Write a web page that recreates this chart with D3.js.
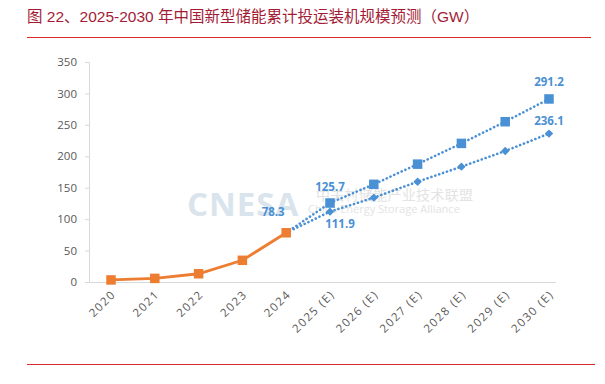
<!DOCTYPE html>
<html><head><meta charset="utf-8">
<script src="https://cdn.jsdelivr.net/npm/d3@7"></script>
<style>body{margin:0;background:#fff}svg{display:block}</style>
</head><body>
<script>
const categories = ["2020","2021","2022","2023","2024","2025 (E)","2026 (E)","2027 (E)","2028 (E)","2029 (E)","2030 (E)"];
const historical = [3.28, 5.73, 13.1, 34.5, 78.3, null, null, null, null, null, null];
const forecastHigh = [null, null, null, null, 78.3, 125.7, 155.4, 187.5, 220.5, 255.0, 291.2];
const forecastLow  = [null, null, null, null, 78.3, 111.9, 134.2, 159.6, 183.5, 208.4, 236.1];
const yTicks = [0, 50, 100, 150, 200, 250, 300, 350];
const title = "图 22、2025-2030 年中国新型储能累计投运装机规模预测（GW）";

const W = 605, H = 384;
const svg = d3.select("body").append("svg").attr("width", W).attr("height", H);

const orange = "#ED7D31", blue = "#4A90D4", red = "#D9292B";

// title
svg.append("text").attr("x", 27).attr("y", 22)
  .attr("font-family", "'Liberation Sans', 'Noto Sans CJK SC', sans-serif")
  .attr("font-size", 15.5).attr("fill", "#A31C36").text(title);
svg.append("line").attr("x1", 27).attr("x2", 591).attr("y1", 37.5).attr("y2", 37.5)
  .attr("stroke", red).attr("stroke-width", 1);
svg.append("line").attr("x1", 27).attr("x2", 595).attr("y1", 364.5).attr("y2", 364.5)
  .attr("stroke", red).attr("stroke-width", 1);

const x = d3.scalePoint().domain(categories).range([111, 549]);
const y = d3.scaleLinear().domain([0, 350]).range([282, 62]);

// watermark
const wm = svg.append("g");
wm.append("text").attr("x", 187).attr("y", 216).attr("font-family", "'Open Sans', sans-serif")
  .attr("font-weight", 700).attr("font-size", 33).attr("fill", "#D9E4EC").attr("letter-spacing", 1).text("CNESA");
wm.append("text").attr("x", 316).attr("y", 200).attr("font-family", "'Noto Sans CJK SC', sans-serif")
  .attr("font-size", 14).attr("fill", "#E3E3E3").attr("letter-spacing", 0.3).text("中关村储能产业技术联盟");
wm.append("text").attr("x", 308).attr("y", 213).attr("font-family", "'Open Sans', sans-serif")
  .attr("font-size", 11).attr("fill", "#E3E3E3").text("China Energy Storage Alliance");

// axes
const yAxis = svg.append("g").attr("transform", "translate(89,0)")
  .call(d3.axisLeft(y).tickValues(yTicks).tickSize(4).tickPadding(8));
yAxis.select(".domain").attr("stroke", "#D9D9D9");
yAxis.selectAll(".tick line").attr("stroke", "#D9D9D9");
yAxis.selectAll("text").attr("font-family", "'Open Sans', sans-serif").attr("font-size", 11.5).attr("fill", "#595959");

svg.append("line").attr("x1", 89).attr("x2", 556).attr("y1", 282.5).attr("y2", 282.5)
  .attr("stroke", "#D9D9D9").attr("stroke-width", 1.2);

const xAxis = svg.append("g").attr("transform", "translate(0,282)")
  .call(d3.axisBottom(x).tickSize(0).tickPadding(0));
xAxis.select(".domain").remove();
xAxis.selectAll("text")
  .attr("font-family", "'Open Sans', sans-serif").attr("font-size", 11.5).attr("fill", "#595959")
  .attr("letter-spacing", 1.5)
  .attr("text-anchor", "end").attr("dy", 0)
  .attr("transform", "translate(5,13) rotate(-45)");

// lines
const lineFn = arr => d3.line().defined(d => d.v != null).x(d => x(d.c)).y(d => y(d.v))(arr.map((v, i) => ({c: categories[i], v})));

svg.append("path").attr("d", lineFn(forecastHigh)).attr("fill", "none")
  .attr("stroke", blue).attr("stroke-width", 2.6).attr("stroke-linecap", "round").attr("stroke-dasharray", "0.1 4");
svg.append("path").attr("d", lineFn(forecastLow)).attr("fill", "none")
  .attr("stroke", blue).attr("stroke-width", 2.6).attr("stroke-linecap", "round").attr("stroke-dasharray", "0.1 4");
svg.append("path").attr("d", lineFn(historical)).attr("fill", "none")
  .attr("stroke", orange).attr("stroke-width", 2.8);

// markers
const sq = 9.5;
forecastHigh.forEach((v, i) => {
  if (v == null || i < 5) return;
  svg.append("rect").attr("x", x(categories[i]) - sq/2).attr("y", y(v) - sq/2)
    .attr("width", sq).attr("height", sq).attr("fill", blue);
});
const dsz = 4.2;
forecastLow.forEach((v, i) => {
  if (v == null || i < 5) return;
  const cx = x(categories[i]), cy = y(v);
  svg.append("path").attr("d", `M${cx},${cy-dsz}L${cx+dsz},${cy}L${cx},${cy+dsz}L${cx-dsz},${cy}Z`).attr("fill", blue);
});
historical.forEach((v, i) => {
  if (v == null) return;
  svg.append("rect").attr("x", x(categories[i]) - sq/2).attr("y", y(v) - sq/2)
    .attr("width", sq).attr("height", sq).attr("fill", orange);
});

// labels
const lab = (t, cx, cy) => svg.append("text").attr("x", cx).attr("y", cy).attr("text-anchor", "middle")
  .attr("font-family", "'Open Sans', sans-serif").attr("font-weight", 700).attr("font-size", 11.5)
  .attr("fill", blue).text(t);
lab("291.2", x(categories[10]), y(forecastHigh[10]) - 13);
lab("236.1", x(categories[10]), y(forecastLow[10]) - 9);
lab("125.7", x(categories[5]), y(forecastHigh[5]) - 12);
lab("111.9", x(categories[5]) + 10, y(forecastLow[5]) + 16);
lab("78.3", x(categories[4]) - 13, y(historical[4]) - 17);
</script>
</body></html>
